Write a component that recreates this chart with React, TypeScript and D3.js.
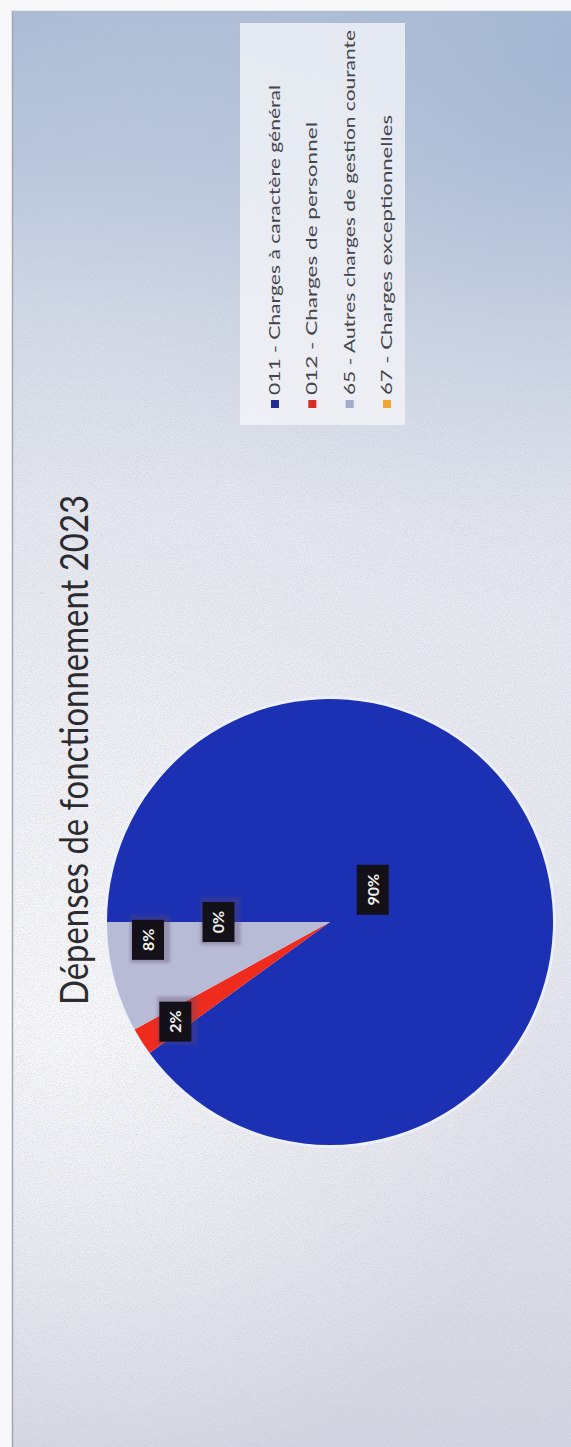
import React from 'react';
import * as d3 from 'd3';

// ---- data ----
const title = 'Dépenses de fonctionnement 2023';
const categories = [
  '011 - Charges à caractère général',
  '012 - Charges de personnel',
  '65 - Autres charges de gestion courante',
  '67 - Charges exceptionnelles',
];
const values = [90, 2, 8, 0];
const valueLabels = ['90%', '2%', '8%', '0%'];

// ---- styles / layout ----
const sliceColors = ['#1b30b3', '#ee2b1d', '#b8bbd6', '#f2a52c'];
const legendColors = ['#1f2c92', '#d62b26', '#a3abcb', '#eea533'];
// label placement: angle shift (deg) from slice middle, radius fraction
const labelPlacement = [
  { da: -19, rf: 0.24 },
  { da: -0.4, rf: 0.825 },
  { da: 8.8, rf: 0.82 },
  { da: 0, rf: 0.5 },
];
const legendTextLength = [310, 273, 365, 280];

const W = 571;
const H = 1447;

export default function App() {
  // original (landscape) coordinates: u along 0..H, v along 0..W
  const cx = 525;
  const cy = 330;
  const R = 223;

  const pieGen = d3.pie<number>().sort(null).value((d) => d);
  const arcs = pieGen(values);
  const arcGen = d3.arc<d3.PieArcDatum<number>>().innerRadius(0).outerRadius(R);

  const legendRowV = d3.scaleLinear().domain([0, 3]).range([275, 387]);
  const legendStartU = 1052;

  const font = 'Lato, "Open Sans", sans-serif';

  return (
    <svg
      width={W}
      height={H}
      viewBox={`0 0 ${W} ${H}`}
      style={{ position: 'absolute', left: 0, top: 0, display: 'block' }}
    >
      <defs>
        <linearGradient id="bg" x1="0" y1="0" x2="0" y2="1">
          <stop offset="0" stopColor="#a9bbd5" />
          <stop offset="0.1" stopColor="#b7c6dc" />
          <stop offset="0.22" stopColor="#d5dce8" />
          <stop offset="0.35" stopColor="#e8eaf1" />
          <stop offset="0.6" stopColor="#ebecf2" />
          <stop offset="0.85" stopColor="#dfe0e9" />
          <stop offset="1" stopColor="#d5d6e2" />
        </linearGradient>
        <radialGradient id="blueCorner" cx="571" cy="60" r="560" gradientUnits="userSpaceOnUse">
          <stop offset="0" stopColor="#9cb2d1" stopOpacity="0.75" />
          <stop offset="0.6" stopColor="#b4c3da" stopOpacity="0.25" />
          <stop offset="1" stopColor="#c8d2e2" stopOpacity="0" />
        </radialGradient>
        <radialGradient id="glow" cx="70" cy="1020" r="480" gradientUnits="userSpaceOnUse">
          <stop offset="0" stopColor="#ffffff" stopOpacity="0.85" />
          <stop offset="0.5" stopColor="#ffffff" stopOpacity="0.4" />
          <stop offset="1" stopColor="#ffffff" stopOpacity="0" />
        </radialGradient>
        <filter id="noise" x="0" y="0" width="100%" height="100%">
          <feTurbulence type="fractalNoise" baseFrequency="0.9" numOctaves="2" seed="7" result="t" />
          <feColorMatrix
            in="t"
            type="matrix"
            values="0 0 0 0 0.5  0 0 0 0 0.52  0 0 0 0 0.62  0.9 0 0 0 -0.32"
          />
        </filter>
        <filter id="labShadow" x="-30%" y="-30%" width="160%" height="160%">
          <feGaussianBlur stdDeviation="1.5" />
        </filter>
      </defs>

      {/* page + photographed slide background */}
      <rect x={0} y={0} width={W} height={H} fill="#f8f8fa" />
      <rect x={12} y={10} width={W - 12} height={H - 10} fill="url(#bg)" />
      <rect x={12} y={10} width={W - 12} height={H - 10} fill="url(#blueCorner)" />
      <rect x={12} y={10} width={W - 12} height={H - 10} fill="url(#glow)" />
      <rect x={12} y={10} width={W - 12} height={H - 10} filter="url(#noise)" />
      <line x1={12.5} y1={10} x2={12.5} y2={H} stroke="#a3a7b2" strokeWidth={1.5} />
      <line x1={12} y1={10.5} x2={W} y2={10.5} stroke="#e6e9ef" strokeWidth={1} />

      {/* chart drawn in landscape orientation, then rotated */}
      <g transform={`translate(0,${H}) rotate(-90)`}>
        {/* legend panel */}
        <rect x={1022} y={240} width={402} height={165} fill="#f3f4f8" opacity={0.8} />
        {categories.map((c, i) => (
          <g key={c}>
            <rect
              x={legendStartU - 13}
              y={legendRowV(i) - 4}
              width={8}
              height={8}
              fill={legendColors[i]}
            />
            <text
              x={legendStartU}
              y={legendRowV(i) + 5}
              fontFamily={font}
              fontSize={15}
              fill="#45454c"
              textLength={legendTextLength[i]}
              lengthAdjust="spacingAndGlyphs"
            >
              {c}
            </text>
          </g>
        ))}

        {/* title */}
        <text
          x={442}
          y={88}
          fontFamily={font}
          fontSize={39}
          fill="#2b2b30"
          textLength={510}
          lengthAdjust="spacingAndGlyphs"
        >
          {title}
        </text>

        {/* pie */}
        <g transform={`translate(${cx},${cy})`}>
          <circle r={R + 1.5} fill="none" stroke="#eef1fa" strokeWidth={2.5} />
          {arcs.map((a, i) => (
            <path key={i} d={arcGen(a) || ''} fill={sliceColors[i]} stroke="none" />
          ))}
          {arcs.map((a, i) => {
            const mid = (a.startAngle + a.endAngle) / 2 + (labelPlacement[i].da * Math.PI) / 180;
            const rr = R * labelPlacement[i].rf;
            const x = Math.sin(mid) * rr;
            const y = -Math.cos(mid) * rr;
            const txt = valueLabels[i];
            const bw = txt.length > 2 ? 50 : 40;
            const bh = 32;
            return (
              <g key={'l' + i} transform={`translate(${x},${y})`}>
                <rect
                  x={-bw / 2 - 3}
                  y={-bh / 2 - 2}
                  width={bw + 8}
                  height={bh + 8}
                  fill="#5a4a6a"
                  opacity={i === 0 ? 0 : 0.35}
                  filter="url(#labShadow)"
                />
                <rect x={-bw / 2} y={-bh / 2} width={bw} height={bh} fill="#141018" />
                <text
                  x={0}
                  y={0}
                  dy="0.36em"
                  textAnchor="middle"
                  fontFamily={font}
                  fontWeight={700}
                  fontSize={16}
                  fill="#f2f2f2"
                >
                  {txt}
                </text>
              </g>
            );
          })}
        </g>
      </g>
    </svg>
  );
}
